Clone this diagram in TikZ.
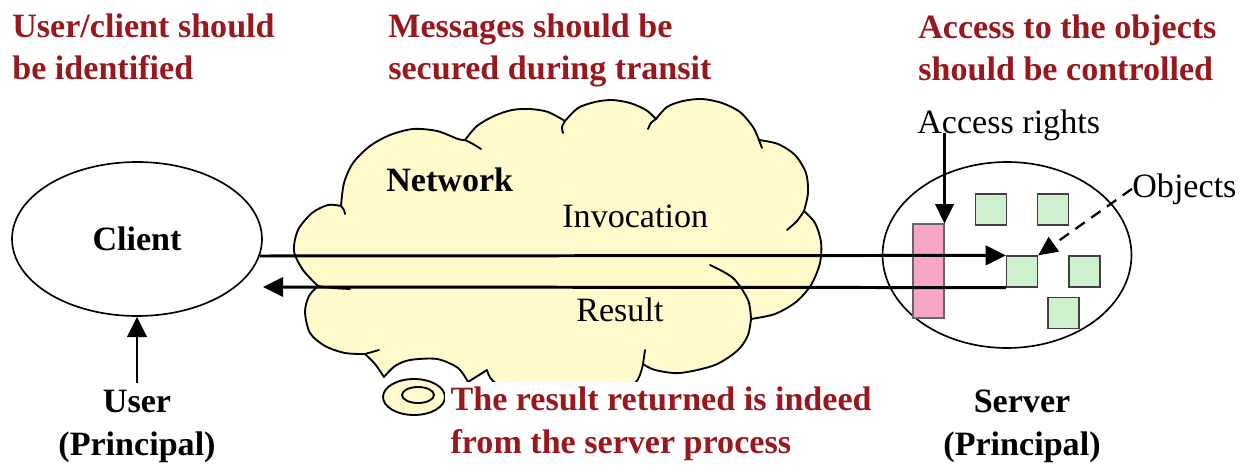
\documentclass[tikz,border=0pt]{standalone}
\usepackage{fontspec}
\setmainfont{Liberation Serif}
\usetikzlibrary{arrows.meta,shapes.geometric}
\definecolor{titlered}{RGB}{152,24,30}
\definecolor{cloudfill}{RGB}{255,249,204}
\definecolor{pinkfill}{RGB}{248,166,200}
\definecolor{greenfill}{RGB}{206,240,206}
\begin{document}
\begin{tikzpicture}[x=0.02cm,y=-0.02cm,
  txt/.style={inner sep=0pt, font=\fontsize{19.4}{24.1}\selectfont},
  btxt/.style={inner sep=0pt, font=\fontsize{19.4}{24.1}\selectfont\bfseries},
  titletxt/.style={btxt, text=titlered, align=left, anchor=base west},
  cloudline/.style={line width=1.05pt, line join=round, line cap=round},
  conn/.style={line width=1.7pt, -{Triangle[length=11.5pt,width=11pt]}},
  thinconn/.style={line width=1.4pt, -{Triangle[length=11pt,width=10.5pt]}},
  dashconn/.style={line width=1.3pt, dash pattern=on 6.5pt off 4.5pt, -{Triangle[length=11pt,width=10pt]}},
  sqbox/.style={draw=black!75, line width=0.7pt, fill=greenfill, minimum width=0.62cm, minimum height=0.62cm, inner sep=0pt},
  oval/.style={draw, ellipse, line width=0.95pt, inner sep=0pt}
]
\useasboundingbox (0,0) rectangle (1244,473);

% titles (base anchor = last line)
\node[titletxt] (t1) at (12,80) {User/client should\\be identified};
\node[titletxt] (t2) at (388,80) {Messages should be\\secured during transit};
\node[titletxt] (t3) at (918,81) {Access to the objects\\should be controlled};

% cloud
\path[cloudline, draw, fill=cloudfill]
  plot[smooth] coordinates {(318,286) (303,270) (294,251) (298,230) (312,213) (328,205) (341,206)}
  -- plot[smooth] coordinates {(341,206) (344,183) (353,163) (370,146) (390,135) (413,129) (437,131) (458,139) (465,140)}
  -- plot[smooth] coordinates {(465,140) (477,126) (494,116) (512,110) (530,109) (548,112) (565,121)}
  -- plot[smooth] coordinates {(565,121) (578,108) (595,102) (612,100) (630,103) (646,110) (656,119)}
  -- plot[smooth] coordinates {(656,119) (667,107) (683,101) (702,99) (722,103) (740,112) (753,127) (759,140)}
  -- plot[smooth] coordinates {(759,140) (778,144) (795,155) (806,173) (808,193) (804,211)}
  -- plot[smooth] coordinates {(804,211) (815,223) (821,242) (820,263) (811,285) (796,302) (775,314) (751,319)}
  -- plot[smooth] coordinates {(751,319) (748,335) (738,350) (715,365) (680,373) (655,370) (643,364)}
  -- plot[smooth] coordinates {(643,364) (636,382) (610,400) (565,405) (520,398) (493,381) (487,370)}
  -- plot[smooth] coordinates {(468,382) (458,368) (437,359) (410,360) (395,366) (384,377)}
  -- plot[smooth] coordinates {(384,377) (375,364) (365,354)}
  -- plot[smooth] coordinates {(365,354) (345,353) (325,346) (310,333) (305,312) (309,296) (318,286)}
  -- cycle;
% cloud tails
\draw[cloudline] plot[smooth] coordinates {(318,286) (333,288) (350,289)};
\draw[cloudline] plot[smooth] coordinates {(341,206) (344,210) (345,214)};
\draw[cloudline] plot[smooth] coordinates {(465,140) (473,144) (481,149)};
\draw[cloudline] plot[smooth] coordinates {(565,121) (562,127) (563,133)};
\draw[cloudline] plot[smooth] coordinates {(656,119) (651,123) (648,129)};
\draw[cloudline] plot[smooth] coordinates {(759,140) (762,148)};
\draw[cloudline] plot[smooth] coordinates {(804,211) (797,221) (787,230)};
\draw[cloudline] plot[smooth] coordinates {(751,319) (748,300) (733,278) (710,265)};
\draw[cloudline] plot[smooth] coordinates {(643,364) (645,350)};
\draw[cloudline] plot[smooth] coordinates {(365,354) (379,350)};
% spiral
\draw[cloudline, fill=cloudfill] (414,397) ellipse [x radius=0.62cm, y radius=0.36cm];
\draw[cloudline] (418,395) ellipse [x radius=0.32cm, y radius=0.16cm];

% bottom title (covers cloud bottom)
\node[titletxt, fill=white, inner sep=3pt] (t4) at (445,453) {The result returned is indeed\\from the server process};

% client
\node[oval, minimum width=5cm, minimum height=3.08cm, font=\fontsize{19.4}{24.1}\selectfont\bfseries] (client) at (137,239) {Client};
\node[btxt, align=center, anchor=base, inner sep=4pt] (user) at (137,455) {User\\(Principal)};
\draw[conn] (user.north) -- (client.south);

% server
\node[oval, minimum width=4.98cm, minimum height=3.72cm] (server) at (1007,255) {};
\node[draw=black!60, line width=0.6pt, fill=pinkfill, minimum width=0.62cm, minimum height=1.88cm, inner sep=0pt] (pink) at (928.5,271) {};
\node[sqbox] (s1) at (991,209.5) {};
\node[sqbox] (s2) at (1053,209.5) {};
\node[sqbox] (arr) at (1022,271.5) {};
\node[sqbox] (s4) at (1084.5,271.5) {};
\node[sqbox] (s5) at (1063.5,313) {};
\node[btxt, align=center, anchor=base] (srv) at (1022,455) {Server\\(Principal)};

% labels
\node[btxt, anchor=base west] (net) at (386,192) {Network};
\node[txt, anchor=base west] (inv) at (562,227) {Invocation};
\node[txt, anchor=base west] (res) at (576,321) {Result};
\node[txt, anchor=base west] (acc) at (917,133) {Access rights};
\node[txt, anchor=base west] (obj) at (1132,197) {Objects};

% connectors
\coordinate (invs) at (260,256);
\coordinate (rese) at (263,287);
\draw[conn] (invs) -- (arr.north west);
\draw[conn] (arr.south west) -- (rese);
\draw[thinconn] (acc.base -| pink.north east) -- (pink.north east);
\draw[dashconn] (obj.west) -- (arr.north east);
\end{tikzpicture}
\end{document}
